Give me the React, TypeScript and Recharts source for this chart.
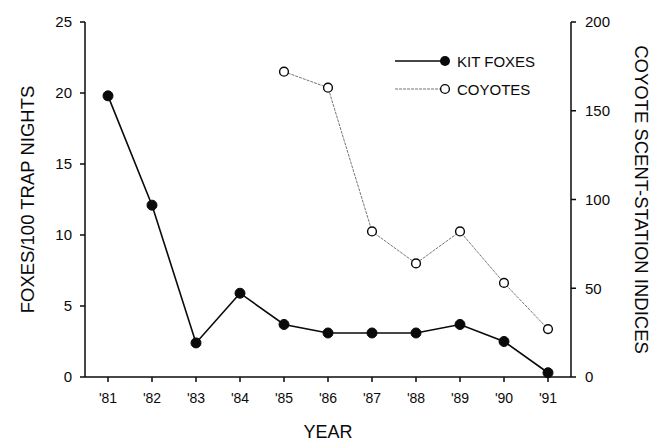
import { LineChart, Line, XAxis, YAxis } from 'recharts'

const years = ["'81", "'82", "'83", "'84", "'85", "'86", "'87", "'88", "'89", "'90", "'91"]
const kitFoxes = [19.8, 12.1, 2.4, 5.9, 3.7, 3.1, 3.1, 3.1, 3.7, 2.5, 0.3]
const coyotes = [null, null, null, null, 172, 163, 82, 64, 82, 53, 27]
const leftTicks = [0, 5, 10, 15, 20, 25]
const rightTicks = [0, 50, 100, 150, 200]

const data = years.map((year, i) => ({ year, fox: kitFoxes[i], coyote: coyotes[i] }))

const font = '"Liberation Sans", Arial, Helvetica, sans-serif'
const ink = '#0a0a0a'

// legend drawn as a small overlay in the top right of the plot
function LegendBox() {
  return (
    <svg width={200} height={60} style={{ position: 'absolute', left: 395, top: 49, overflow: 'visible' }}>
      <line x1={0} y1={12} x2={50} y2={12} stroke={ink} strokeWidth={1.6} />
      <circle cx={50} cy={12} r={5} fill={ink} />
      <text x={62} y={17.5} fontSize={15} fill={ink} fontFamily={font}>KIT FOXES</text>
      <line x1={0} y1={40} x2={50} y2={40} stroke="#777" strokeWidth={1} strokeDasharray="3 1" />
      <circle cx={50} cy={40} r={4.4} fill="#fff" stroke={ink} strokeWidth={1.4} />
      <text x={62} y={45.5} fontSize={15} fill={ink} fontFamily={font}>COYOTES</text>
    </svg>
  )
}

export default function App() {
  return (
    <div style={{ position: 'absolute', left: 0, top: 0, width: 663, height: 443, background: '#fff' }}>
      <LineChart width={663} height={443} data={data} margin={{ top: 22, right: 0, bottom: 0, left: 0 }}>
        <XAxis
          dataKey="year"
          height={66}
          padding={{ left: 23, right: 23 }}
          stroke={ink}
          strokeWidth={1.5}
          tickSize={5}
          tickMargin={11}
          tick={{ fontSize: 14, fill: ink, fontFamily: font }}
          label={{ value: 'YEAR', position: 'insideBottom', offset: 5, style: { fontSize: 18, fill: ink, fontFamily: font } }}
        />
        <YAxis
          yAxisId="left"
          width={85}
          domain={[0, 25]}
          ticks={leftTicks}
          stroke={ink}
          strokeWidth={1.5}
          tickSize={5}
          tickMargin={8}
          tick={{ fontSize: 15, fill: ink, fontFamily: font }}
          label={{ value: 'FOXES/100 TRAP NIGHTS', angle: -90, position: 'insideLeft', offset: 27, style: { textAnchor: 'middle', fontSize: 18.5, fill: ink, fontFamily: font } }}
        />
        <YAxis
          yAxisId="right"
          orientation="right"
          width={92}
          domain={[0, 200]}
          ticks={rightTicks}
          stroke={ink}
          strokeWidth={1.5}
          tickSize={5}
          tickMargin={9}
          tick={{ fontSize: 15, fill: ink, fontFamily: font }}
          label={{ value: 'COYOTE SCENT-STATION INDICES', angle: 90, position: 'insideRight', offset: 21, style: { textAnchor: 'middle', fontSize: 18.5, fill: ink, fontFamily: font } }}
        />
        <Line
          yAxisId="right"
          dataKey="coyote"
          stroke="#777"
          strokeWidth={1}
          strokeDasharray="3 1"
          dot={{ r: 4.4, fill: '#fff', stroke: ink, strokeWidth: 1.4, strokeDasharray: '0' }}
          isAnimationActive={false}
        />
        <Line
          yAxisId="left"
          dataKey="fox"
          stroke={ink}
          strokeWidth={1.6}
          dot={{ r: 5, fill: ink, stroke: ink, strokeWidth: 1 }}
          isAnimationActive={false}
        />
      </LineChart>
      <LegendBox />
    </div>
  )
}
